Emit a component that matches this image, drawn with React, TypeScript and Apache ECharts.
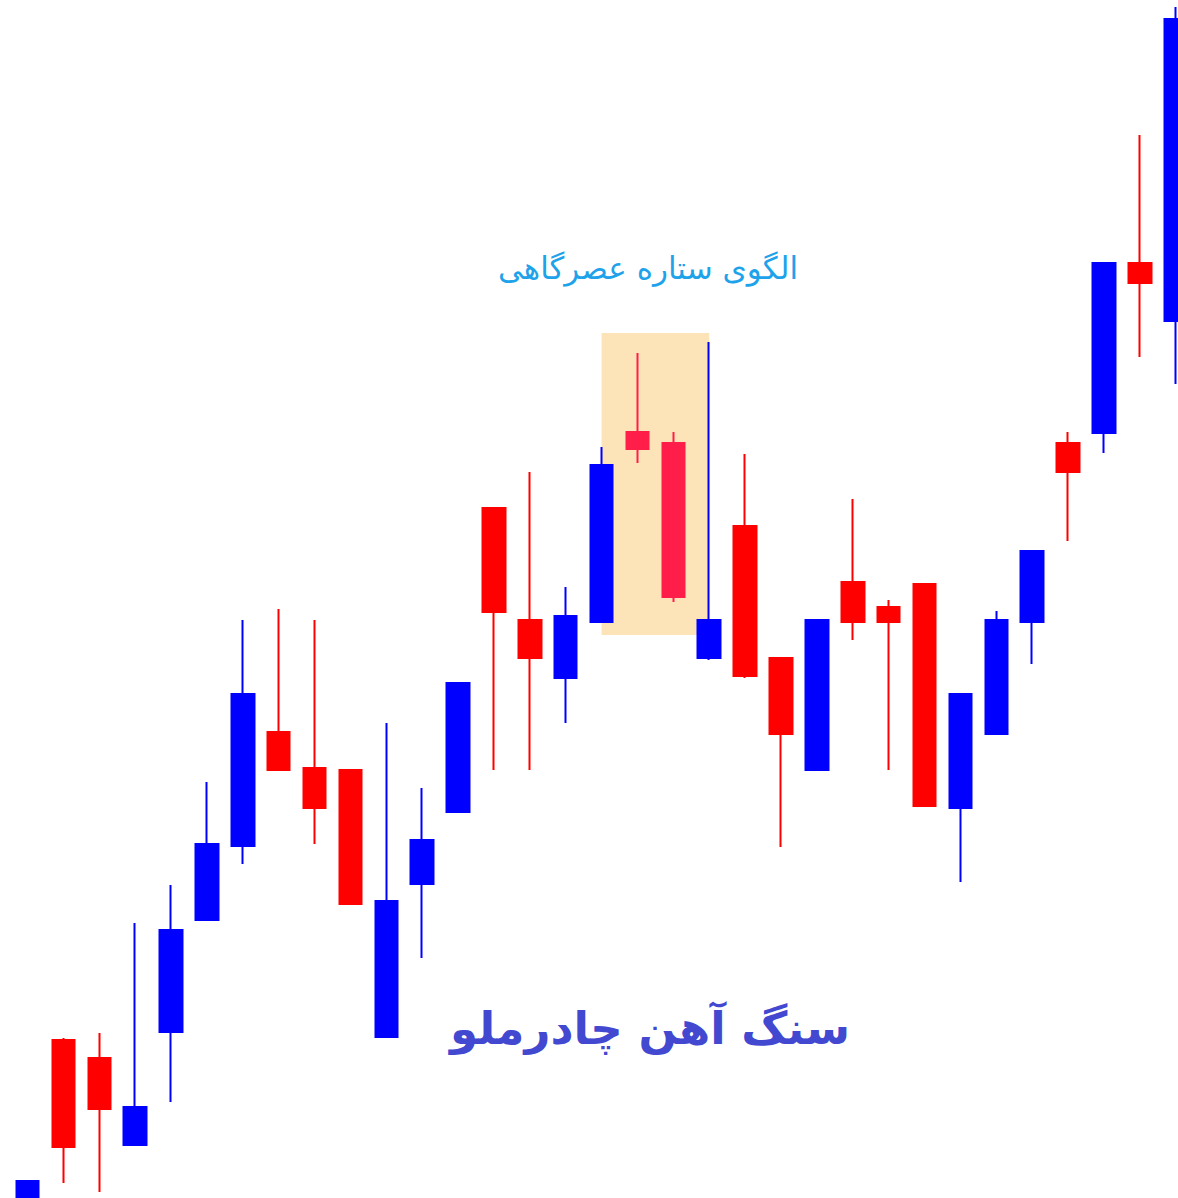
import React, { useEffect, useRef } from "react";
import * as echarts from "echarts";

// Candle index (33 candles)
const categories = Array.from({ length: 33 }, (_, i) => String(i + 1));
const opens = [-27, 158, 140, 53, 166, 278, 352, 466, 430, 428, 161, 314, 386, 690, 578, 520, 576, 766, 755, 540, 672, 540, 428, 616, 591, 614, 390, 464, 576, 755, 765, 935, 877];
const closes = [17, 51, 89, 91, 268, 354, 504, 428, 390, 294, 297, 358, 515, 586, 540, 582, 733, 749, 601, 578, 522, 464, 578, 576, 576, 392, 504, 578, 647, 726, 935, 915, 1179];
const lows = [-42, 15, 6, 53, 96, 278, 334, 428, 354, 294, 161, 240, 386, 428, 428, 475, 576, 735, 596, 538, 520, 351, 428, 558, 428, 392, 316, 464, 534, 657, 745, 841, 814];
const highs = [17, 160, 165, 275, 313, 416, 578, 589, 578, 428, 475, 410, 515, 690, 726, 611, 751, 845, 766, 856, 744, 540, 578, 699, 598, 614, 504, 587, 647, 766, 935, 1063, 1191];
// candles of the evening-star pattern
const patternIdx = [17, 18];
const patternBox = { from: 16, to: 19, low: 563, high: 865 };

const title = "الگوی ستاره عصرگاهی";
const caption = "سنگ آهن چادرملو";

export default function App() {
  const ref = useRef<HTMLDivElement>(null);
  useEffect(() => {
    if (!ref.current) return;
    const chart = echarts.init(ref.current, undefined, { renderer: "svg" });
    const data = categories.map((_, i) => {
      const v = [opens[i], closes[i], lows[i], highs[i]];
      if (patternIdx.includes(i)) {
        return {
          value: v,
          itemStyle: { color0: "#ff1e4a", borderColor0: "#ff1e4a" },
        };
      }
      return v;
    });
    chart.setOption({
      animation: false,
      backgroundColor: "#ffffff",
      grid: { left: 9.6, width: 1184, top: 0, bottom: 0, containLabel: false },
      xAxis: {
        type: "category",
        data: categories,
        boundaryGap: true,
        show: false,
      },
      yAxis: {
        type: "value",
        min: 0,
        max: 1198,
        show: false,
        splitLine: { show: false },
      },
      graphic: [
        {
          type: "text",
          style: {
            text: title,
            fill: "#1ea2ea",
            font: "31px 'DejaVu Sans'",
            textAlign: "center",
            textVerticalAlign: "middle",
          },
          x: 648,
          y: 268,
        },
        {
          type: "text",
          style: {
            text: caption,
            fill: "#4248cf",
            font: "bold 45px 'DejaVu Sans'",
            textAlign: "center",
            textVerticalAlign: "middle",
          },
          x: 650,
          y: 1028,
        },
      ],
      series: [
        {
          type: "candlestick",
          data,
          barWidth: 23,
          clip: true,
          itemStyle: {
            color: "#0000ff",
            color0: "#ff0000",
            borderColor: "#0000ff",
            borderColor0: "#ff0000",
            borderWidth: 2,
          },
          markArea: {
            silent: true,
            itemStyle: { color: "#fde3b8", opacity: 1 },
            data: [
              [
                { xAxis: patternBox.from, yAxis: patternBox.high },
                { xAxis: patternBox.to, yAxis: patternBox.low },
              ],
            ],
          },
        },
      ],
    });
    return () => chart.dispose();
  }, []);
  return (
    <div
      style={{
        position: "fixed",
        left: 0,
        top: 0,
        width: 1178,
        height: 1198,
        overflow: "hidden",
        background: "#fff",
      }}
    >
      <div ref={ref} style={{ width: 1210, height: 1198 }} />
    </div>
  );
}
